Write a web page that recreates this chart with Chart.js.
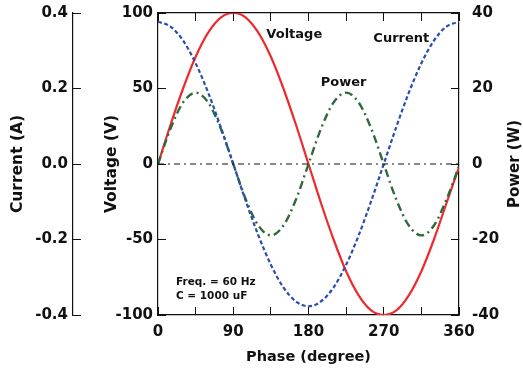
<!DOCTYPE html>
<html>
<head>
<meta charset="utf-8">
<script src="https://cdn.jsdelivr.net/npm/chart.js@4.4.1/dist/chart.umd.min.js"></script>
<style>
  html, body { margin: 0; padding: 0; background: #fff; }
  #wrap { width: 523px; height: 371px; position: relative; }
</style>
</head>
<body>
<div id="wrap"><canvas id="chart"></canvas></div>
<script>
// phase in degrees, sampled every 15
const phase = [0,15,30,45,60,75,90,105,120,135,150,165,180,195,210,225,240,255,270,285,300,315,330,345,360];
const voltage = [0,26,50,71,87,97,100,97,87,71,50,26,0,-26,-50,-71,-87,-97,-100,-97,-87,-71,-50,-26,-2];
const current = [0.377,0.364,0.327,0.267,0.189,0.098,0,-0.098,-0.189,-0.267,-0.327,-0.364,-0.377,-0.364,-0.327,-0.267,-0.189,-0.098,0,0.098,0.189,0.267,0.327,0.364,0.377];
const power = [0,9.4,16.3,18.9,16.3,9.4,0,-9.4,-16.3,-18.9,-16.3,-9.4,0,9.4,16.3,18.9,16.3,9.4,0,-9.4,-16.3,-18.9,-16.3,-9.4,-0.6];

const phaseTicks = [0,90,180,270,360];
const voltTicks = [-100,-50,0,50,100];
const currTicks = [-0.4,-0.2,0,0.2,0.4];
const powTicks = [-40,-20,0,20,40];

// curve names placed at [phase, voltage]
const curveNames = [["Voltage",163,86],["Current",291,83],["Power",222,54]];
const noteLines = ["Freq. = 60 Hz","C = 1000 uF"];

const FONT = "'DejaVu Sans', sans-serif";
const ink = "#111";

const pts = (ys) => phase.map((p, i) => ({x: p, y: ys[i]}));

// keep the vertical axes from pushing the plot area down
const yFit = (w) => (s) => { s.width = w; s.paddingTop = 9; s.paddingBottom = 9; };

const textPlugin = {
  id: "texts",
  afterDraw(chart) {
    const ctx = chart.ctx;
    const xs = chart.scales.x, yv = chart.scales.yV;
    ctx.save();
    ctx.fillStyle = ink;
    ctx.font = "bold 13px " + FONT;
    ctx.textAlign = "center";
    ctx.textBaseline = "middle";
    curveNames.forEach(([t, px, v]) => {
      ctx.fillText(t, xs.getPixelForValue(px), yv.getPixelForValue(v));
    });
    ctx.font = "bold 10.5px " + FONT;
    ctx.textAlign = "left";
    noteLines.forEach((t, i) => {
      ctx.fillText(t, xs.getPixelForValue(21.5), yv.getPixelForValue(-78 - i * 9.4));
    });
    // right axis title reads bottom-to-top
    ctx.font = "bold 15px " + FONT;
    ctx.textAlign = "center";
    ctx.translate(515, (chart.chartArea.top + chart.chartArea.bottom) / 2);
    ctx.rotate(-Math.PI / 2);
    ctx.fillText("Power (W)", 0, 0);
    ctx.restore();
  }
};

const tickFont = {family: FONT, size: 15, weight: "bold"};
const titleFont = {family: FONT, size: 14.5, weight: "bold"};
const yTitleFont = {family: FONT, size: 15.5, weight: "bold"};

new Chart(document.getElementById("chart"), {
  type: "line",
  data: {
    datasets: [
      {label: "zero", data: [{x: 0, y: 0}, {x: 360, y: 0}], yAxisID: "yV",
       borderColor: "#111", borderWidth: 1, borderDash: [6,4,2,4], pointRadius: 0},
      {label: "Current", data: pts(current), yAxisID: "yI",
       borderColor: "#2a4db0", borderWidth: 2.2, borderDash: [4,2.5], pointRadius: 0,
       cubicInterpolationMode: "monotone"},
      {label: "Power", data: pts(power), yAxisID: "yP",
       borderColor: "#2f6a3a", borderWidth: 2.4, borderDash: [8,4,2,4], pointRadius: 0,
       cubicInterpolationMode: "monotone"},
      {label: "Voltage", data: pts(voltage), yAxisID: "yV",
       borderColor: "#ee2a2e", borderWidth: 2.2, pointRadius: 0,
       cubicInterpolationMode: "monotone"}
    ]
  },
  options: {
    responsive: true,
    maintainAspectRatio: false,
    animation: false,
    layout: {padding: 0},
    plugins: {legend: {display: false}, tooltip: {enabled: false}},
    scales: {
      x: {
        type: "linear", position: "bottom", min: 0, max: 360,
        afterBuildTicks: (s) => { s.ticks = [0,45,90,135,180,225,270,315,360].map(v => ({value: v})); },
        ticks: {font: tickFont, color: ink, padding: 16, maxRotation: 0,
                callback: (v) => phaseTicks.includes(v) ? String(v) : ""},
        grid: {drawOnChartArea: false, tickLength: -8, color: ink},
        border: {color: ink, width: 1.2},
        title: {display: true, text: "Phase (degree)", font: titleFont,
                color: ink, padding: {top: 2, bottom: 5}},
        afterFit: (s) => { s.height = 56; }
      },
      x2: {
        type: "linear", position: "top", min: 0, max: 360,
        afterBuildTicks: (s) => { s.ticks = [0,45,90,135,180,225,270,315,360].map(v => ({value: v})); },
        ticks: {display: false},
        grid: {drawOnChartArea: false, tickLength: -8, color: ink},
        border: {color: ink, width: 1.2},
        afterFit: (s) => { s.height = 13; }
      },
      yV: {
        position: "left", weight: 0, min: -100, max: 100,
        afterBuildTicks: (s) => { s.ticks = voltTicks.map(v => ({value: v})); },
        ticks: {font: tickFont, color: ink, padding: 13},
        grid: {drawOnChartArea: false, tickLength: -8, color: ink},
        border: {color: ink, width: 1.2},
        title: {display: true, text: "Voltage (V)", font: yTitleFont,
                color: ink, padding: {top: 30, bottom: 0}},
        afterFit: yFit(85)
      },
      yI: {
        position: "left", weight: 1, min: -0.4, max: 0.4,
        afterBuildTicks: (s) => { s.ticks = currTicks.map(v => ({value: v})); },
        ticks: {font: tickFont, color: ink, padding: 13, callback: (v) => v.toFixed(1)},
        grid: {drawOnChartArea: false, tickLength: -8, color: ink},
        border: {color: ink, width: 1.2},
        title: {display: true, text: "Current (A)", font: yTitleFont,
                color: ink, padding: {top: 9, bottom: 0}},
        afterFit: yFit(73)
      },
      yP: {
        position: "right", min: -40, max: 40,
        afterBuildTicks: (s) => { s.ticks = powTicks.map(v => ({value: v})); },
        ticks: {font: tickFont, color: ink, padding: 21},
        grid: {drawOnChartArea: false, tickLength: -8, color: ink},
        border: {color: ink, width: 1.2},
        afterFit: yFit(64)
      }
    }
  },
  plugins: [textPlugin]
});
</script>
</body>
</html>
